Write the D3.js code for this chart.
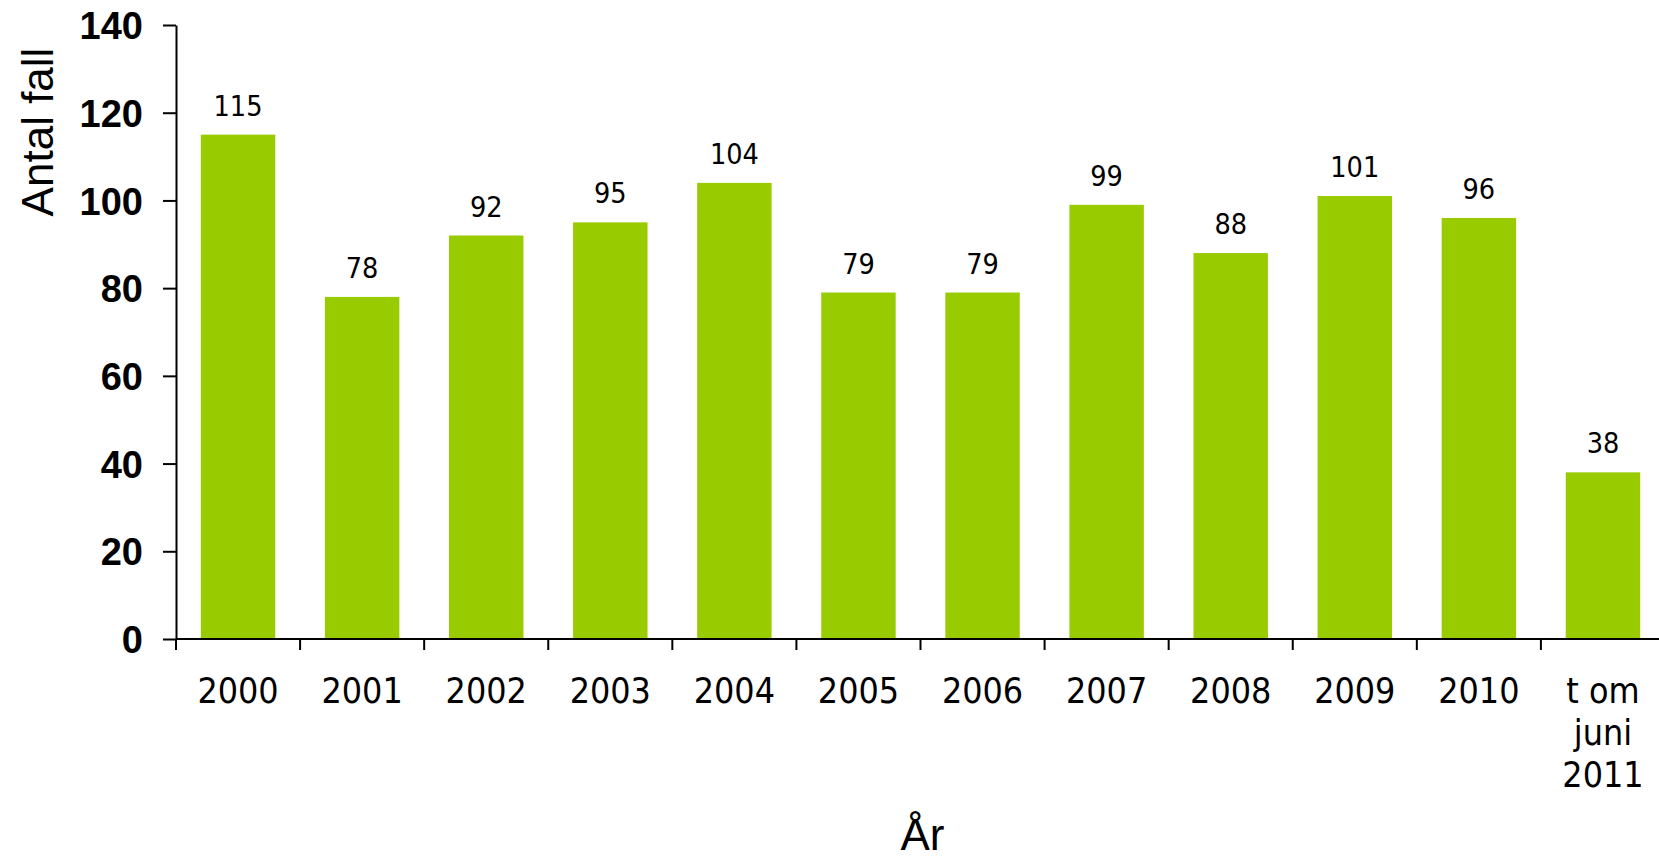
<!DOCTYPE html>
<html>
<head>
<meta charset="utf-8">
<script src="https://cdn.jsdelivr.net/npm/d3@7"></script>
<style>
  body { margin: 0; background: #fff; }
  .val, .xlab { font-family: "DejaVu Sans Condensed", "DejaVu Sans", sans-serif; fill: #000; }
  .ytick text { font-family: "Liberation Sans", Arial, sans-serif; font-weight: bold; }
  .title { font-family: "Liberation Sans", Arial, sans-serif; }
</style>
</head>
<body>
<div class="graph"></div>
<script>
var years = ['2000', '2001', '2002', '2003', '2004', '2005', '2006', '2007', '2008', '2009', '2010', 't om juni 2011'];
var cases = [115, 78, 92, 95, 104, 79, 79, 99, 88, 101, 96, 38];
var yTicks = [0, 20, 40, 60, 80, 100, 120, 140];

var width = 1659, height = 856;
// plot box (window.top is reserved, so own names here)
var plotLeft = 176, plotRight = 1665, plotTop = 25, plotBottom = 639;

var svg = d3.select('.graph')
  .append('svg')
  .attr('width', width)
  .attr('height', height);

var x = d3.scaleBand()
  .domain(years)
  .range([plotLeft, plotRight])
  .paddingInner(0.4)
  .paddingOuter(0.2);

var y = d3.scaleLinear()
  .domain([0, 140])
  .range([plotBottom, plotTop]);

// bars
svg.selectAll('rect.bar')
  .data(cases)
  .enter()
  .append('rect')
  .attr('class', 'bar')
  .attr('x', function (d, i) { return x(years[i]); })
  .attr('y', function (d) { return y(d); })
  .attr('width', x.bandwidth())
  .attr('height', function (d) { return y(0) - y(d); })
  .attr('fill', '#99cc00');

// value labels
svg.selectAll('text.val')
  .data(cases)
  .enter()
  .append('text')
  .attr('class', 'val')
  .attr('x', function (d, i) { return x(years[i]) + x.bandwidth() / 2; })
  .attr('y', function (d) { return y(d) - 19; })
  .attr('text-anchor', 'middle')
  .attr('font-size', 28.5)
  .text(function (d) { return d; });

// y axis
var yAxis = svg.append('g')
  .attr('class', 'ytick')
  .attr('transform', 'translate(' + plotLeft + ',0)')
  .call(d3.axisLeft(y).tickValues(yTicks).tickSize(13).tickSizeOuter(0).tickPadding(20));
yAxis.select('.domain').attr('stroke', '#000').attr('stroke-width', 2);
yAxis.selectAll('.tick line').attr('stroke', '#000').attr('stroke-width', 2);
yAxis.selectAll('.tick text').attr('font-size', 38).attr('fill', '#000').attr('dy', '0.36em');

// x axis line and ticks at band edges
var edge = function (d) { return x(d) - x.step() * x.paddingOuter(); };
svg.append('line')
  .attr('x1', plotLeft).attr('x2', plotRight)
  .attr('y1', plotBottom).attr('y2', plotBottom)
  .attr('stroke', '#000').attr('stroke-width', 2);
svg.selectAll('line.xtick')
  .data(years)
  .enter()
  .append('line')
  .attr('class', 'xtick')
  .attr('x1', edge).attr('x2', edge)
  .attr('y1', plotBottom).attr('y2', plotBottom + 11)
  .attr('stroke', '#000').attr('stroke-width', 2);

// x labels, the last one wraps over three lines
var xl = svg.selectAll('text.xlab')
  .data(years)
  .enter()
  .append('text')
  .attr('class', 'xlab')
  .attr('text-anchor', 'middle')
  .attr('font-size', 35.5)
  .attr('y', 703);
xl.each(function (d) {
  var t = d3.select(this);
  var cx = x(d) + x.bandwidth() / 2;
  var lines = d === 't om juni 2011' ? ['t om', 'juni', '2011'] : [d];
  lines.forEach(function (s, i) {
    t.append('tspan').attr('x', cx).attr('y', 703 + i * 42).text(s);
  });
});

// axis titles
svg.append('text')
  .attr('class', 'title')
  .attr('transform', 'translate(53,132) rotate(-90)')
  .attr('text-anchor', 'middle')
  .attr('font-size', 44)
  .text('Antal fall');

svg.append('text')
  .attr('class', 'title')
  .attr('x', (plotLeft + plotRight) / 2 + 2)
  .attr('y', 850)
  .attr('text-anchor', 'middle')
  .attr('font-size', 44)
  .text('År');
</script>
</body>
</html>
